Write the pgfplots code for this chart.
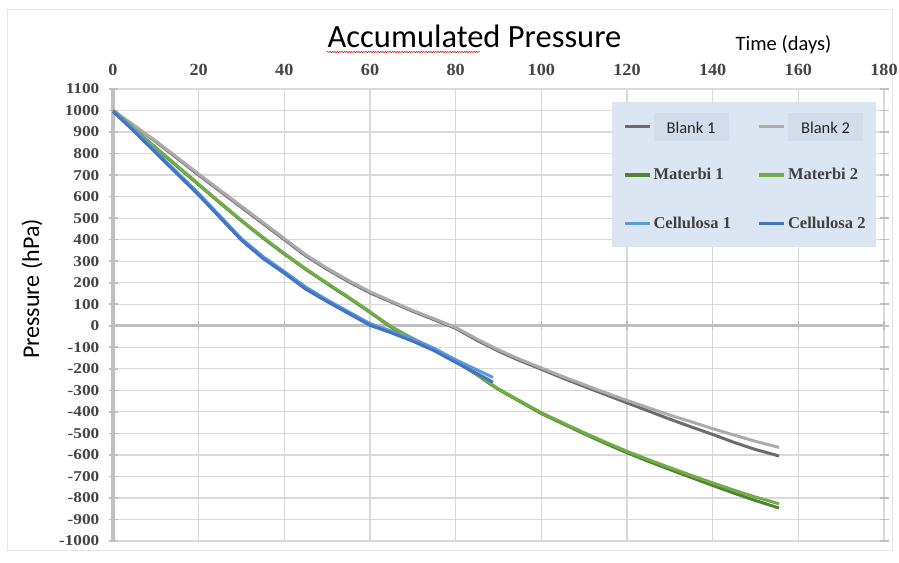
\documentclass[border=0pt]{standalone}
\usepackage{pgfplots}
\pgfplotsset{compat=1.18}
\usepackage{fontspec}
\usetikzlibrary{decorations.pathmorphing}
\setmainfont{Liberation Serif}
\newfontfamily\calibri{Carlito}
\newfontfamily\xfont[FakeStretch=1.07]{Liberation Serif}
\newfontfamily\yfont[FakeStretch=1.15]{Liberation Serif}
\definecolor{blankA}{HTML}{6E6A6E}
\definecolor{blankB}{HTML}{ABABAB}
\definecolor{matA}{HTML}{538135}
\definecolor{matB}{HTML}{70AD47}
\definecolor{celA}{HTML}{5B9BD5}
\definecolor{celB}{HTML}{4472C4}
\definecolor{gridc}{HTML}{D9D9D9}
\definecolor{axisc}{HTML}{BFBFBF}
\definecolor{legbg}{HTML}{DCE6F2}
\definecolor{legbox}{HTML}{D2DCEA}
\definecolor{tickc}{HTML}{444444}
\definecolor{legtxt}{HTML}{404040}
\setlength{\fboxsep}{0pt}
\newcommand\bbox[2][82bp]{\makebox[#1][l]{\smash{\raisebox{-8bp}{\colorbox{legbox}{\rule[-7bp]{0pt}{28bp}\makebox[75bp][c]{\calibri\fontsize{16.5bp}{18bp}\selectfont\color{black!85}#2}}}}}}
\newcommand\lt[2][82bp]{\makebox[#1][l]{\bfseries\fontsize{16.5bp}{18bp}\selectfont\color{legtxt}#2}}
\begin{document}
\begin{tikzpicture}
\path[use as bounding box] (0,0) rectangle (899bp,563bp);
\draw[color=black!10, line width=1bp] (7.5bp,12bp) rectangle (892bp,553bp);
\node[anchor=base, inner sep=0pt, font=\calibri\fontsize{32.5bp}{36bp}\selectfont] at (474.5bp,515bp) {Accumulated Pressure};
\draw[red!80!black, line width=0.5bp, decorate, decoration={snake, amplitude=0.6bp, segment length=2.4bp}] (327bp,511bp) -- (480bp,511bp);
\node[anchor=base, inner sep=0pt, font=\calibri\fontsize{20.5bp}{24bp}\selectfont] at (783.5bp,512bp) {Time (days)};
\node[rotate=90, inner sep=0pt, font=\calibri\fontsize{24bp}{28bp}\selectfont] at (32bp,274bp) {Pressure (hPa)};
\begin{axis}[
  at={(113bp,22bp)}, anchor=south west,
  scale only axis, width=771bp, height=452bp,
  xmin=0, xmax=180, ymin=-1000, ymax=1100,
  xtick={0,20,...,180}, ytick={-1000,-900,...,1100},
  grid=major, grid style={gridc, line width=1.2bp},
  axis line style={draw=none},
  xticklabel pos=upper,
  xtick style={draw=none},
  ytick style={axisc, line width=1.6bp},
  major tick length=9bp, tick align=center,
  clip=false,
  /pgf/number format/assume math mode=true,
  /pgf/number format/1000 sep={},
  xticklabel style={font=\xfont\bfseries\fontsize{17bp}{18bp}\selectfont, text=tickc, inner sep=0pt, anchor=base, yshift=9bp},
  yticklabel style={font=\yfont\bfseries\fontsize{15bp}{16bp}\selectfont, text=tickc, inner sep=0pt, anchor=east, xshift=-9bp},
  legend columns=2,
  legend cell align=left,
  legend image code/.code={\draw[#1, line width=3.5bp] (0bp,0bp) -- (25bp,0bp);},
  legend style={at={(0.647,0.971)}, anchor=north west, fill=legbg, draw=none,
    inner xsep=11bp, inner ysep=14bp, row sep=28.5bp,
    nodes={inner sep=0pt, minimum height=20bp},
    /tikz/every odd column/.append style={column sep=2bp},
    /tikz/every even column/.append style={column sep=22bp}},
]
\draw[axisc, line width=3bp] (axis cs:0,0) -- (axis cs:180,0);
\draw[axisc, line width=3.5bp] (axis cs:0,-1000) -- (axis cs:0,1100);
\pgfplotsinvokeforeach{20,40,...,180}{\draw[axisc, line width=1.6bp] (axis cs:#1,-20) -- (axis cs:#1,20);}
\addplot[blankA, line width=3bp] coordinates {(0,1000) (5,928) (10,855) (15,778) (20,700) (25,625) (30,550) (35,475) (40,400) (45,325) (50,262) (55,205) (60,153) (65,110) (70,67) (75,28) (80,-12) (85,-68) (90,-118) (95,-162) (100,-202) (105,-243) (110,-282) (115,-320) (120,-358) (125,-396) (130,-434) (135,-470) (140,-505) (145,-542) (150,-575) (155.5,-605)};
\addlegendentry{\bbox{Blank 1}}
\addplot[blankB, line width=3bp] coordinates {(0,1000) (5,930) (10,858) (15,782) (20,705) (25,630) (30,555) (35,480) (40,405) (45,330) (50,267) (55,210) (60,158) (65,114) (70,71) (75,32) (80,-8) (85,-62) (90,-112) (95,-156) (100,-196) (105,-236) (110,-274) (115,-311) (120,-347) (125,-381) (130,-415) (135,-446) (140,-478) (145,-508) (150,-537) (155.5,-565)};
\addlegendentry{\bbox[77bp]{Blank 2}}
\addplot[matA, line width=3bp] coordinates {(0,1000) (5,912) (10,825) (15,740) (20,655) (25,570) (30,487) (35,408) (40,333) (45,262) (50,195) (55,130) (60,62) (65,-8) (70,-62) (75,-110) (80,-167) (85,-228) (88,-270) (90,-296) (95,-352) (100,-408) (105,-455) (110,-502) (115,-547) (120,-590) (125,-630) (130,-668) (135,-705) (140,-742) (145,-778) (150,-812) (155.5,-847)};
\addlegendentry{\lt{Materbi 1}}
\addplot[matB, line width=3bp] coordinates {(0,1000) (5,914) (10,828) (15,743) (20,658) (25,573) (30,490) (35,411) (40,336) (45,265) (50,198) (55,133) (60,65) (65,-5) (70,-59) (75,-107) (80,-164) (85,-225) (88,-267) (90,-293) (95,-349) (100,-404) (105,-451) (110,-497) (115,-541) (120,-583) (125,-622) (130,-659) (135,-695) (140,-730) (145,-764) (150,-796) (155.5,-827)};
\addlegendentry{\lt[77bp]{Materbi 2}}
\addplot[celA, line width=3bp] coordinates {(0,1000) (5,908) (10,810) (15,712) (20,615) (25,510) (30,405) (35,322) (40,252) (45,180) (50,120) (55,65) (60,10) (65,-25) (70,-62) (75,-105) (80,-158) (85,-205) (88.7,-240)};
\addlegendentry{\lt{Cellulosa 1}}
\addplot[celB, line width=3bp] coordinates {(0,995) (5,902) (10,803) (15,705) (20,607) (25,502) (30,397) (35,313) (40,244) (45,170) (50,112) (55,57) (60,2) (65,-33) (70,-72) (75,-116) (80,-170) (85,-222) (88.7,-262)};
\addlegendentry{\lt[77bp]{Cellulosa 2}}
\end{axis}
\end{tikzpicture}
\end{document}
